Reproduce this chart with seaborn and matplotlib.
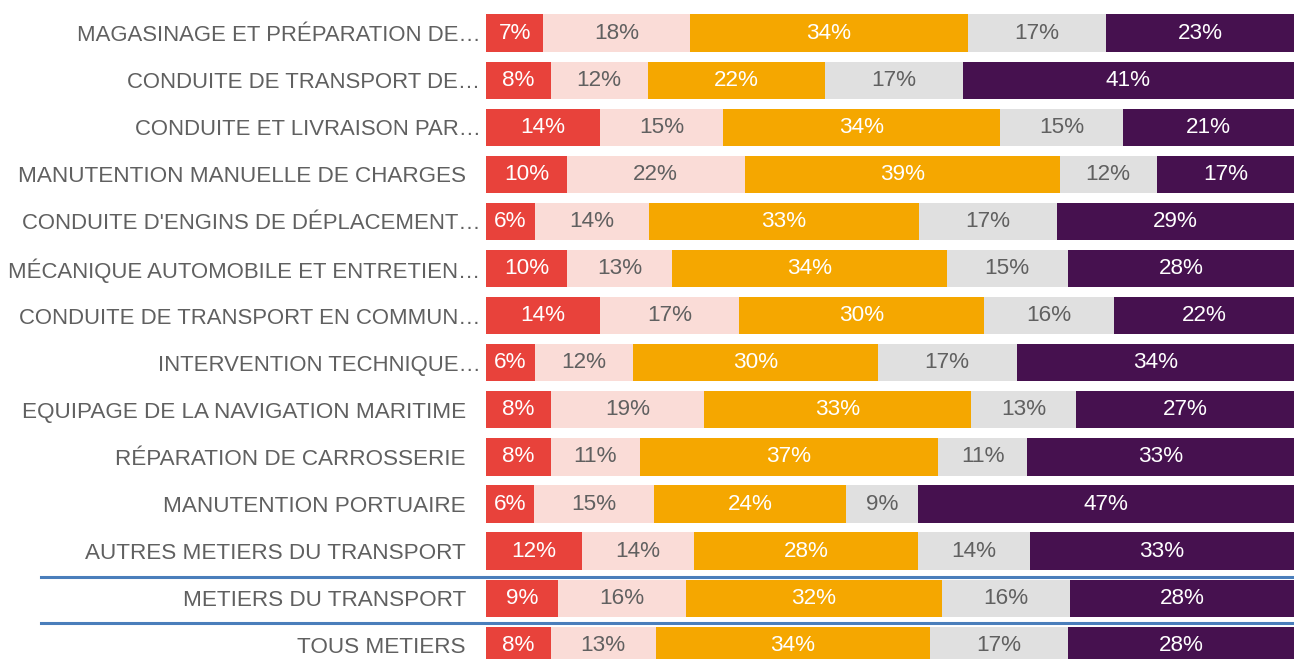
import numpy as np
import pandas as pd
import matplotlib
matplotlib.use("Agg")
import matplotlib.pyplot as plt
import matplotlib.transforms as mtransforms
import seaborn as sns

# categories, top to bottom
metiers = [
    "MAGASINAGE ET PRÉPARATION DE…",
    "CONDUITE DE TRANSPORT DE…",
    "CONDUITE ET LIVRAISON PAR…",
    "MANUTENTION MANUELLE DE CHARGES",
    "CONDUITE D'ENGINS DE DÉPLACEMENT…",
    "MÉCANIQUE AUTOMOBILE ET ENTRETIEN…",
    "CONDUITE DE TRANSPORT EN COMMUN…",
    "INTERVENTION TECHNIQUE…",
    "EQUIPAGE DE LA NAVIGATION MARITIME",
    "RÉPARATION DE CARROSSERIE",
    "MANUTENTION PORTUAIRE",
    "AUTRES METIERS DU TRANSPORT",
    "METIERS DU TRANSPORT",
    "TOUS METIERS",
]

# five segments per row (percent)
seg1 = [7, 8, 14, 10, 6, 10, 14, 6, 8, 8, 6, 12, 9, 8]
seg2 = [18, 12, 15, 22, 14, 13, 17, 12, 19, 11, 15, 14, 16, 13]
seg3 = [34, 22, 34, 39, 33, 34, 30, 30, 33, 37, 24, 28, 32, 34]
seg4 = [17, 17, 15, 12, 17, 15, 16, 17, 13, 11, 9, 14, 16, 17]
seg5 = [23, 41, 21, 17, 29, 28, 22, 34, 27, 33, 47, 33, 28, 28]

colors = ["#E8423B", "#FADCD7", "#F5A700", "#E0E0E0", "#46114F"]
grey = "#606060"
text_colors = ["white", grey, "white", grey, "white"]
fs = 16.2

plt.rcParams["font.family"] = ["Liberation Sans", "DejaVu Sans"]

vals = np.array([seg1, seg2, seg3, seg4, seg5], dtype=float)
# bars are drawn to full width (each row rescaled to 100)
widths = vals / vals.sum(axis=0) * 100
cum = np.cumsum(widths, axis=0)

fig = plt.figure(figsize=(12.94, 6.59), dpi=100)
ax = fig.add_axes([486 / 1294, -0.01495, 808 / 1294, 1.0006])

# stacked by overdrawing cumulative totals, from the right end back
for k in range(4, -1, -1):
    df = pd.DataFrame({"metier": metiers, "x": cum[k]})
    sns.barplot(data=df, y="metier", x="x", order=metiers, color=colors[k],
                saturation=1, width=0.79, ax=ax, orient="h", linewidth=0)

for i in range(len(metiers)):
    for k in range(5):
        xc = cum[k, i] - widths[k, i] / 2
        ax.text(xc, i, f"{int(vals[k, i])}%", ha="center", va="center",
                fontsize=fs, color=text_colors[k])

ax.set_xlim(0, 100)
ax.set_ylim(len(metiers) - 0.5, -0.5)
ax.set_xlabel("")
ax.set_ylabel("")
ax.set_xticks([])
ax.tick_params(axis="y", length=0, pad=14.4, labelsize=fs, labelcolor=grey)
for s in ax.spines.values():
    s.set_visible(False)

# truncated labels sit closer to the bars
shift = mtransforms.ScaledTranslation(0.145, 0, fig.dpi_scale_trans)
for lab in ax.get_yticklabels():
    if lab.get_text().endswith("…"):
        lab.set_fontsize(15.9)
        lab.set_transform(lab.get_transform() + shift)

# separator lines above the two summary rows
trans = mtransforms.blended_transform_factory(ax.transAxes, ax.transData)
for yy in [11.56, 12.52]:
    ax.plot([-445 / 808, 1], [yy, yy], color="#4A7EBB", lw=2.2,
            transform=trans, clip_on=False)

fig.savefig("out.png", dpi=100)
